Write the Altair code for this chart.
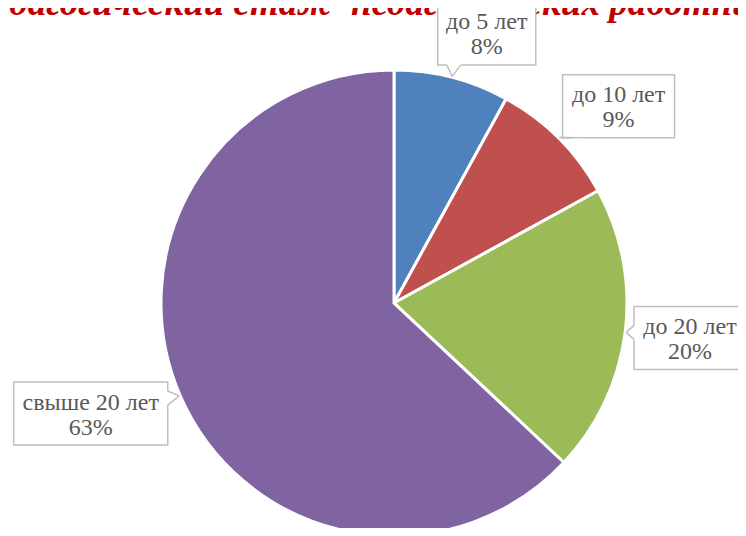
import altair as alt
import pandas as pd

# ---- data ----
categories = ["до 5 лет", "до 10 лет", "до 20 лет", "свыше 20 лет"]
values = [8, 9, 20, 63]
colors = ["#4F81BD", "#C0504D", "#9BBB59", "#8064A2"]
title_text = "Педагогический стаж\u00a0 педагогических работников"

df = pd.DataFrame({"cat": categories, "val": values, "order": list(range(len(categories)))})

# ---- layout constants ----
W, H = 730, 520
CX, CY = 386, 295      # pie centre (chart coords)
R = 233                # pie radius
RB = 250               # label box anchor radius
BOX_H = 63
GRAY = "#BFBFBF"
TXT = "#595959"
FONT = "Liberation Serif"

base = alt.Chart(df)

pie = base.mark_arc(outerRadius=R, stroke="white", strokeWidth=3).encode(
    theta=alt.Theta("val:Q", stack=True),
    order=alt.Order("order:Q"),
    color=alt.Color("cat:N", scale=alt.Scale(domain=categories, range=colors), legend=None),
    x=alt.value(CX),
    y=alt.value(CY),
)

lab = (
    base.transform_joinaggregate(total="sum(val)")
    .transform_window(cum="sum(val)", sort=[alt.SortField("order")], frame=[None, 0])
    .transform_calculate(
        a="2*PI*(datum.cum - datum.val/2)/datum.total",
        sx="sin(datum.a)",
        sy="-cos(datum.a)",
        w="length(datum.cat)*14 - 14",
        cx0=f"{CX} + {RB}*datum.sx + datum.w/4*(datum.sx + (datum.sx < 0 ? -1 : 1))",
        cx=f"min(datum.cx0, {W} - datum.w/2 + 8)",
        cy=f"{CY} + {RB}*datum.sy + {BOX_H/2 * 0.9}*datum.sy",
        x1="datum.cx - datum.w/2",
        x2="datum.cx + datum.w/2",
        y1=f"datum.cy - {BOX_H/2}",
        y2=f"datum.cy + {BOX_H/2}",
        tx=f"{CX} + {R + 1}*datum.sx",
        ty=f"{CY} + {R + 1}*datum.sy",
        ddx=f"{CX} - datum.cx",
        ddy=f"{CY} - datum.cy",
        L="sqrt(datum.ddx*datum.ddx + datum.ddy*datum.ddy)",
        ux="datum.ddx/datum.L",
        uy="datum.ddy/datum.L",
        tside="(datum.w/2)/max(abs(datum.ux),1e-6)",
        tvert=f"({BOX_H/2})/max(abs(datum.uy),1e-6)",
        onside="datum.tside < datum.tvert",
        pcx="datum.onside ? (datum.ux > 0 ? datum.x2 : datum.x1) : clamp(datum.tx, datum.x1 + 16, datum.x2 - 16)",
        pcy="datum.onside ? clamp(datum.ty, datum.y1 + 16, datum.y2 - 16) : (datum.uy > 0 ? datum.y2 : datum.y1)",
        b1x="datum.onside ? datum.pcx : datum.pcx - 7",
        b1y="datum.onside ? datum.pcy - 7 : datum.pcy",
        b2x="datum.onside ? datum.pcx : datum.pcx + 7",
        b2y="datum.onside ? datum.pcy + 7 : datum.pcy",
        label="datum.cat + '\\n' + datum.val + '%'",
    )
)

boxes = lab.mark_rect(fill="white", stroke=GRAY, strokeWidth=1.5).encode(
    x=alt.X("x1:Q", scale=None),
    x2="x2:Q",
    y=alt.Y("y1:Q", scale=None),
    y2="y2:Q",
)

gap = lab.mark_rule(color="white", strokeWidth=3).encode(
    x=alt.X("b1x:Q", scale=None), x2="b2x:Q",
    y=alt.Y("b1y:Q", scale=None), y2="b2y:Q",
)

leg1 = lab.mark_rule(color=GRAY, strokeWidth=1.5).encode(
    x=alt.X("b1x:Q", scale=None), x2="tx:Q",
    y=alt.Y("b1y:Q", scale=None), y2="ty:Q",
)

leg2 = lab.mark_rule(color=GRAY, strokeWidth=1.5).encode(
    x=alt.X("b2x:Q", scale=None), x2="tx:Q",
    y=alt.Y("b2y:Q", scale=None), y2="ty:Q",
)

texts = lab.mark_text(
    font=FONT, fontSize=24, color=TXT, lineBreak="\n", lineHeight=25,
    align="center", baseline="alphabetic", dy=-4,
).encode(
    x=alt.X("cx:Q", scale=None),
    y=alt.Y("cy:Q", scale=None),
    text="label:N",
)

title = alt.Chart(pd.DataFrame({"t": [title_text]})).mark_text(
    font=FONT, fontSize=37, fontStyle="italic", fontWeight="bold", color="#C00000",
    align="center", baseline="alphabetic",
).encode(
    x=alt.value(377),
    y=alt.value(7),
    text="t:N",
)

chart = (
    alt.layer(title, pie, boxes, gap, leg1, leg2, texts)
    .properties(width=W, height=H, padding=0, autosize="none")
    .configure_view(stroke=None)
)

chart.save("out.html", embed_options={"renderer": "svg", "actions": False})
